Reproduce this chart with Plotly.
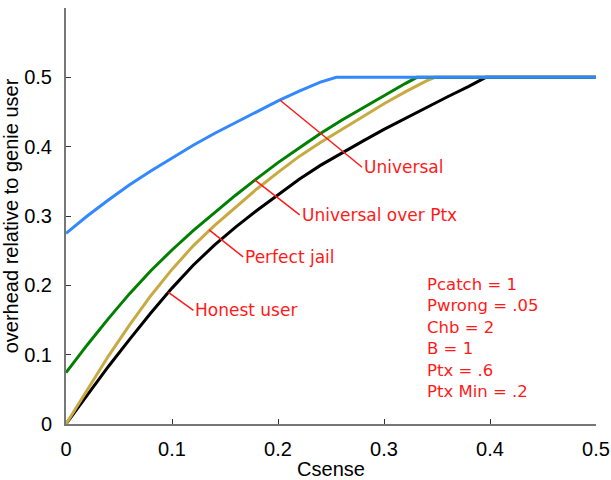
import plotly.graph_objects as go

# ---- data ----
honest_x = [0, 0.02, 0.04, 0.06, 0.08, 0.10, 0.12, 0.14, 0.16, 0.18, 0.20, 0.22, 0.24, 0.26, 0.28, 0.30, 0.32, 0.34, 0.36, 0.38, 0.396, 0.5]
honest_y = [0, 0.042, 0.083, 0.122, 0.160, 0.196, 0.229, 0.258, 0.284, 0.308, 0.331, 0.353, 0.373, 0.391, 0.408, 0.425, 0.441, 0.457, 0.472, 0.487, 0.5, 0.5]

jail_x = [0, 0.02, 0.04, 0.06, 0.08, 0.10, 0.12, 0.14, 0.16, 0.18, 0.20, 0.22, 0.24, 0.26, 0.28, 0.30, 0.32, 0.34, 0.348, 0.5]
jail_y = [0, 0.050, 0.098, 0.143, 0.185, 0.223, 0.257, 0.286, 0.313, 0.339, 0.363, 0.386, 0.406, 0.425, 0.444, 0.462, 0.479, 0.495, 0.5, 0.5]

uptx_x = [0, 0.02, 0.04, 0.06, 0.08, 0.10, 0.12, 0.14, 0.16, 0.18, 0.20, 0.22, 0.24, 0.26, 0.28, 0.30, 0.32, 0.331, 0.5]
uptx_y = [0.074, 0.114, 0.152, 0.188, 0.221, 0.251, 0.279, 0.305, 0.330, 0.354, 0.377, 0.398, 0.419, 0.438, 0.456, 0.474, 0.491, 0.5, 0.5]

univ_x = [0, 0.02, 0.04, 0.06, 0.08, 0.10, 0.12, 0.14, 0.16, 0.18, 0.20, 0.22, 0.24, 0.255, 0.5]
univ_y = [0.275, 0.300, 0.323, 0.345, 0.365, 0.384, 0.402, 0.419, 0.435, 0.451, 0.466, 0.480, 0.493, 0.5, 0.5]

tick_vals = [0, 0.1, 0.2, 0.3, 0.4, 0.5]
tick_text = ["0", "0.1", "0.2", "0.3", "0.4", "0.5"]

# label name, anchor point on curve (data), tail offset (px)
labels = [
    ("Universal", 0.202, 0.467, 82, 67),
    ("Universal over Ptx", 0.178, 0.352, 45, 35),
    ("Perfect jail", 0.135, 0.280, 34, 27),
    ("Honest user", 0.0966, 0.190, 25, 18),
]
params_text = ["Pcatch = 1", "Pwrong = .05", "Chb = 2", "B = 1", "Ptx = .6", "Ptx Min = .2"]

RED = "#ff1a1a"
fig = go.Figure()
series = [
    (honest_x, honest_y, "black", "Honest user"),
    (jail_x, jail_y, "#c8aa42", "Perfect jail"),
    (uptx_x, uptx_y, "#008000", "Universal over Ptx"),
    (univ_x, univ_y, "#3388ff", "Universal"),
]
for xs, ys, col, nm in series:
    fig.add_trace(go.Scatter(x=xs, y=ys, mode="lines", name=nm,
                             line=dict(color=col, width=3), line_shape="linear",
                             showlegend=False, hoverinfo="skip"))

for name, hx, hy, ax, ay in labels:
    fig.add_annotation(x=hx, y=hy, ax=ax, ay=ay, axref="pixel", ayref="pixel",
                       text=name, showarrow=True, arrowhead=0, arrowwidth=1.5,
                       arrowcolor=RED, standoff=0, startstandoff=0,
                       xanchor="left", yanchor="middle",
                       font=dict(family="DejaVu Sans", size=17, color=RED))

fig.add_annotation(x=0.3385, y=0.124, xref="x", yref="y", text="<br>".join(params_text),
                   showarrow=False, xanchor="left", yanchor="middle", align="left",
                   font=dict(family="DejaVu Sans", size=16.5, color=RED))

axis_common = dict(showgrid=False, zeroline=False, showline=True, linecolor="#777777",
                   linewidth=2, ticks="inside", ticklen=5, tickcolor="#333333", tickwidth=1,
                   tickvals=tick_vals, ticktext=tick_text, automargin=False,
                   tickfont=dict(family="Liberation Sans, Arial", size=20, color="black"),
                   title_font=dict(family="Liberation Sans, Arial", size=20, color="black"))

fig.update_xaxes(range=[0, 0.5], title_text="Csense", title_standoff=6,
                 ticklabelstandoff=6, **axis_common)
fig.update_yaxes(range=[0, 0.6], title_text="overhead relative to genie user", title_standoff=2,
                 ticklabelstandoff=8, **axis_common)

fig.update_layout(width=611, height=480, margin=dict(l=66, r=15, t=8, b=56),
                  plot_bgcolor="white", paper_bgcolor="white")

fig.write_html("out.html")
